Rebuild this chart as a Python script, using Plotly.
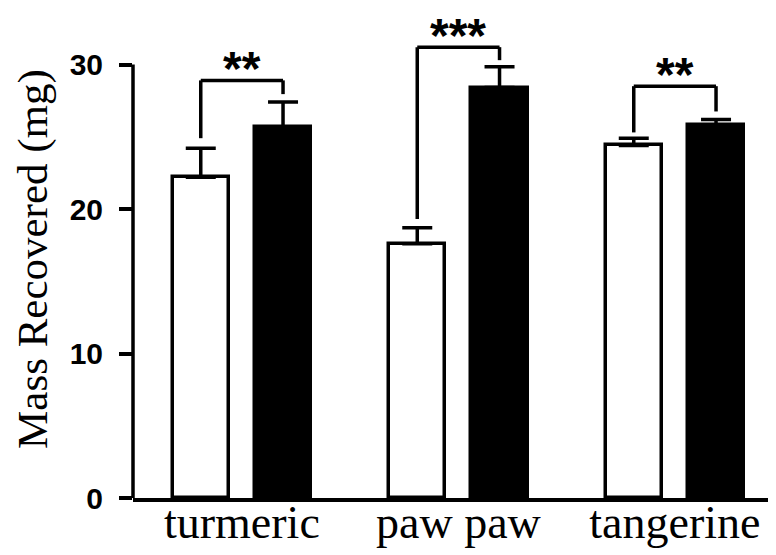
import plotly.graph_objects as go

categories = ["turmeric", "paw paw", "tangerine"]
white_values = [22.2, 17.6, 24.4]
white_errors = [2.0, 1.1, 0.5]
black_values = [25.7, 28.4, 25.8]
black_errors = [1.7, 1.45, 0.4]
y_ticks = [0, 10, 20, 30]
sig_labels = ["**", "***", "**"]
bracket_top = [28.9, 31.2, 28.5]
bracket_left_end = [24.9, 19.3, 25.3]
bracket_right_end = [27.95, 30.3, 26.75]

offset = 0.19
bar_w = 0.26
idx = list(range(len(categories)))
x_white = [i - offset for i in idx]
x_black = [i + offset for i in idx]

Y_MAX = 33.91
LW = 3.5

fig = go.Figure()
fig.add_trace(go.Bar(
    x=x_white, y=white_values, width=bar_w,
    marker=dict(color="white", line=dict(color="black", width=LW)),
    error_y=dict(type="data", array=white_errors, arrayminus=[0]*3, symmetric=False,
                 color="black", thickness=LW, width=15),
    showlegend=False,
))
fig.add_trace(go.Bar(
    x=x_black, y=black_values, width=bar_w,
    marker=dict(color="black", line=dict(color="black", width=LW)),
    error_y=dict(type="data", array=black_errors, arrayminus=[0]*3, symmetric=False,
                 color="black", thickness=LW, width=15),
    showlegend=False,
))

shapes = []
# y axis line from 0 to 30 only
shapes.append(dict(type="line", xref="paper", yref="paper", x0=0, x1=0,
                   y0=0, y1=y_ticks[-1] / Y_MAX, line=dict(color="black", width=LW)))
annotations = []
for i in idx:
    xl, xr = x_white[i], x_black[i]
    shapes.append(dict(type="line", xref="x", yref="y", x0=xl, x1=xl,
                       y0=bracket_left_end[i], y1=bracket_top[i], line=dict(color="black", width=LW)))
    shapes.append(dict(type="line", xref="x", yref="y", x0=xl, x1=xr,
                       y0=bracket_top[i], y1=bracket_top[i], line=dict(color="black", width=LW)))
    shapes.append(dict(type="line", xref="x", yref="y", x0=xr, x1=xr,
                       y0=bracket_right_end[i], y1=bracket_top[i], line=dict(color="black", width=LW)))
    annotations.append(dict(x=(xl + xr) / 2, y=bracket_top[i], xref="x", yref="y",
                            text=sig_labels[i], showarrow=False, yanchor="bottom", yshift=-17,
                            font=dict(family="Liberation Sans", size=48, color="black", weight="bold")))

annotations.append(dict(x=0, y=0.488, xref="paper", yref="paper", xanchor="center", yanchor="middle",
                        xshift=-100, text="Mass Recovered (mg)", textangle=-90, showarrow=False,
                        borderpad=0,
                        font=dict(family="Liberation Serif", size=43, color="black")))

# page body has an 8px default margin, so the figure is sized to fit the window
fig.update_layout(
    width=768, height=547,
    margin=dict(l=125, r=0, t=0, b=57),
    paper_bgcolor="white", plot_bgcolor="white",
    bargap=0,
    shapes=shapes, annotations=annotations,
    xaxis=dict(range=[-0.503, 2.467], tickvals=idx, ticktext=categories,
               showline=True, linecolor="black", linewidth=LW, ticks="",
               showgrid=False, zeroline=False, automargin=False,
               ticklabelstandoff=-19,
               tickfont=dict(family="Liberation Serif", size=46, color="black")),
    yaxis=dict(range=[0, Y_MAX], tickvals=y_ticks, showline=False, ticks="outside",
               ticklen=13, tickwidth=LW, tickcolor="black", showgrid=False, zeroline=False,
               ticklabelstandoff=10, automargin=False,
               tickfont=dict(family="Liberation Sans", size=30, color="black", weight="bold")),
)

fig.write_html("out.html")
